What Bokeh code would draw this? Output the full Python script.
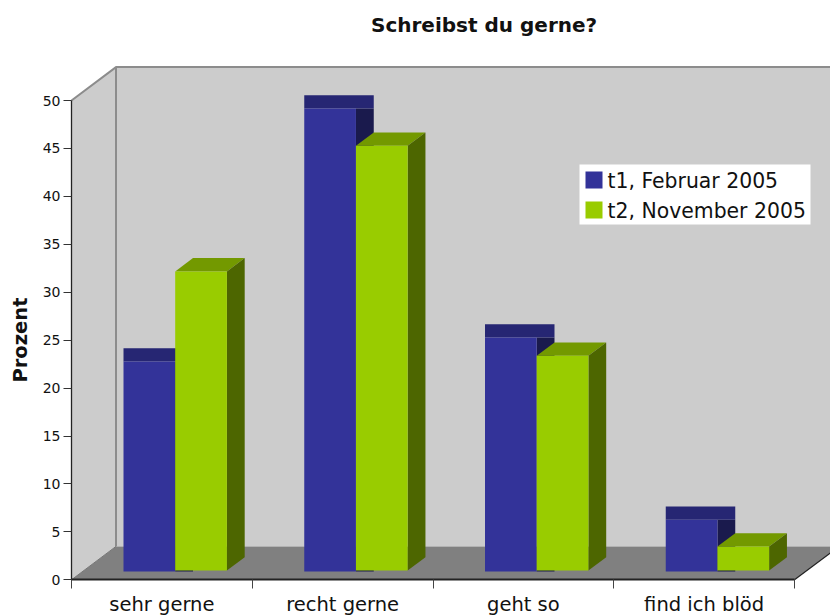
from bokeh.plotting import figure
from bokeh.models import Range1d, LinearAxis, FixedTicker
from bokeh.core.properties import value
from bokeh.embed import file_html
from bokeh.resources import INLINE

categories = ["sehr gerne", "recht gerne", "geht so", "find ich blöd"]
t1_values = [21.9, 48.3, 24.4, 5.4]
t2_values = [31.2, 44.3, 22.4, 2.5]
series_names = ["t1, Februar 2005", "t2, November 2005"]
y_ticks = [0, 5, 10, 15, 20, 25, 30, 35, 40, 45, 50]
title_text = "Schreibst du gerne?"
y_title = "Prozent"

FONT = "DejaVu Sans"
BLUE, BLUE_TOP, BLUE_SIDE = "#333399", "#262673", "#1A1A4D"
GREEN, GREEN_TOP, GREEN_SIDE = "#99CC00", "#739900", "#4D6600"

# page pixels of the axis origin, and the scale of both axes
X0, Y0 = 71.0, 579.3
PX_X = 180.75
PX_Y = 9.586
wall_dx = 44.5 / PX_X
wall_dy = 33.4 / PX_Y
bar_dx = 17.8 / PX_X
bar_dy = 13.3 / PX_Y
base1 = 8.3 / PX_Y
base2 = 9.3 / PX_Y
bar_gap = 52 / PX_X
bar_w = 51.7 / PX_X
n = len(categories)
y_top = y_ticks[-1]


def xd(px):
    return (px - X0) / PX_X


def yd(py):
    return (Y0 - py) / PX_Y


p = figure(width=830, height=615, output_backend="svg", toolbar_location=None,
           x_range=Range1d(xd(0), xd(830)), y_range=Range1d(yd(615), yd(0)),
           x_axis_type=None, y_axis_type=None,
           min_border_left=0, min_border_right=0, min_border_top=0, min_border_bottom=0,
           outline_line_color=None, background_fill_color="white", border_fill_color="white")
p.grid.visible = False

# left wall, back wall, floor and their edges
p.patch([0, wall_dx, wall_dx, 0], [0, wall_dy, y_top + wall_dy, y_top], fill_color="#CCCCCC", line_color=None)
p.patch([wall_dx, n + wall_dx, n + wall_dx, wall_dx], [wall_dy, wall_dy, y_top + wall_dy, y_top + wall_dy],
        fill_color="#CCCCCC", line_color=None)
p.patch([0, n, n + wall_dx, wall_dx], [0, 0, wall_dy, wall_dy], fill_color="#808080", line_color=None)
p.line([0, wall_dx, n + wall_dx], [y_top, y_top + wall_dy, y_top + wall_dy], line_color="#8C8C8C", line_width=2)
p.line([wall_dx, wall_dx], [wall_dy, y_top + wall_dy], line_color="#8C8C8C", line_width=2)
p.line([0, wall_dx], [0, wall_dy], line_color="#777777", line_width=1)
p.line([n, n + wall_dx], [0, wall_dy], line_color="#222222", line_width=1.2)

for i in range(n):
    l1 = i + bar_gap
    r1 = l1 + bar_w
    r2 = r1 + bar_w
    v1 = t1_values[i] + base1
    v2 = t2_values[i] + base2
    # t1: dark side and a flat dark top
    p.quad(left=r1, right=r1 + bar_dx, bottom=base1, top=v1, fill_color=BLUE_SIDE, line_color=None)
    p.quad(left=l1, right=r1 + bar_dx, bottom=v1, top=v1 + bar_dy, fill_color=BLUE_TOP, line_color=None)
    p.quad(left=l1, right=r1, bottom=base1, top=v1, fill_color=BLUE, line_color=None)
    # t2: parallelogram top and side
    p.patch([r1, r2, r2 + bar_dx, r1 + bar_dx], [v2, v2, v2 + bar_dy, v2 + bar_dy],
            fill_color=GREEN_TOP, line_color=None)
    p.patch([r2, r2 + bar_dx, r2 + bar_dx, r2], [base2, base2 + bar_dy, v2 + bar_dy, v2],
            fill_color=GREEN_SIDE, line_color=None)
    p.quad(left=r1, right=r2, bottom=base2, top=v2, fill_color=GREEN, line_color=None)

# legend: white box, swatches, labels
p.quad(left=xd(579), right=xd(810), bottom=yd(224), top=yd(164), fill_color="white", line_color=None)
for top_px, colour in zip([171, 201], [BLUE, GREEN]):
    p.quad(left=xd(585), right=xd(602), bottom=yd(top_px + 17), top=yd(top_px), fill_color=colour, line_color=None)
p.text(x=[xd(607), xd(607)], y=[yd(180), yd(210)], text=series_names, text_font=value(FONT),
       text_font_size="20.4px", text_color="#111111", text_baseline="middle", text_align="left")

# chart title and value-axis title
p.text(x=[xd(370.5)], y=[yd(24)], text=[title_text], text_font=value(FONT), text_font_style="bold",
       text_font_size="20px", text_color="#111111", text_baseline="middle", text_align="left")
p.text(x=[xd(19.5)], y=[yd(339.5)], text=[y_title], angle=90, angle_units="deg", text_font=value(FONT),
       text_font_style="bold", text_font_size="19.5px", text_color="#111111",
       text_baseline="middle", text_align="center")

yax = LinearAxis(ticker=FixedTicker(ticks=y_ticks), bounds=(0, y_top), fixed_location=0)
yax.major_tick_in = 0
yax.major_tick_out = 8
yax.minor_tick_in = 0
yax.minor_tick_out = 0
yax.major_tick_line_color = "#333333"
yax.axis_line_color = "#222222"
yax.axis_line_width = 1.3
yax.major_label_standoff = 3
yax.major_label_text_font = FONT
yax.major_label_text_font_size = "14px"
yax.major_label_text_color = "#111111"
p.add_layout(yax, "left")

xax = LinearAxis(ticker=FixedTicker(ticks=[i + 0.5 for i in range(n)], minor_ticks=list(range(n + 1))),
                 bounds=(0, n), fixed_location=0)
xax.major_label_overrides = {i + 0.5: c for i, c in enumerate(categories)}
xax.major_tick_in = 0
xax.major_tick_out = 0
xax.minor_tick_in = 0
xax.minor_tick_out = 9
xax.minor_tick_line_color = "#444444"
xax.axis_line_color = "#222222"
xax.axis_line_width = 2
xax.major_label_standoff = 4
xax.major_label_text_font = FONT
xax.major_label_text_font_size = "19.5px"
xax.major_label_text_color = "#111111"
p.add_layout(xax, "below")

open("out.html", "w").write(file_html(p, INLINE))
